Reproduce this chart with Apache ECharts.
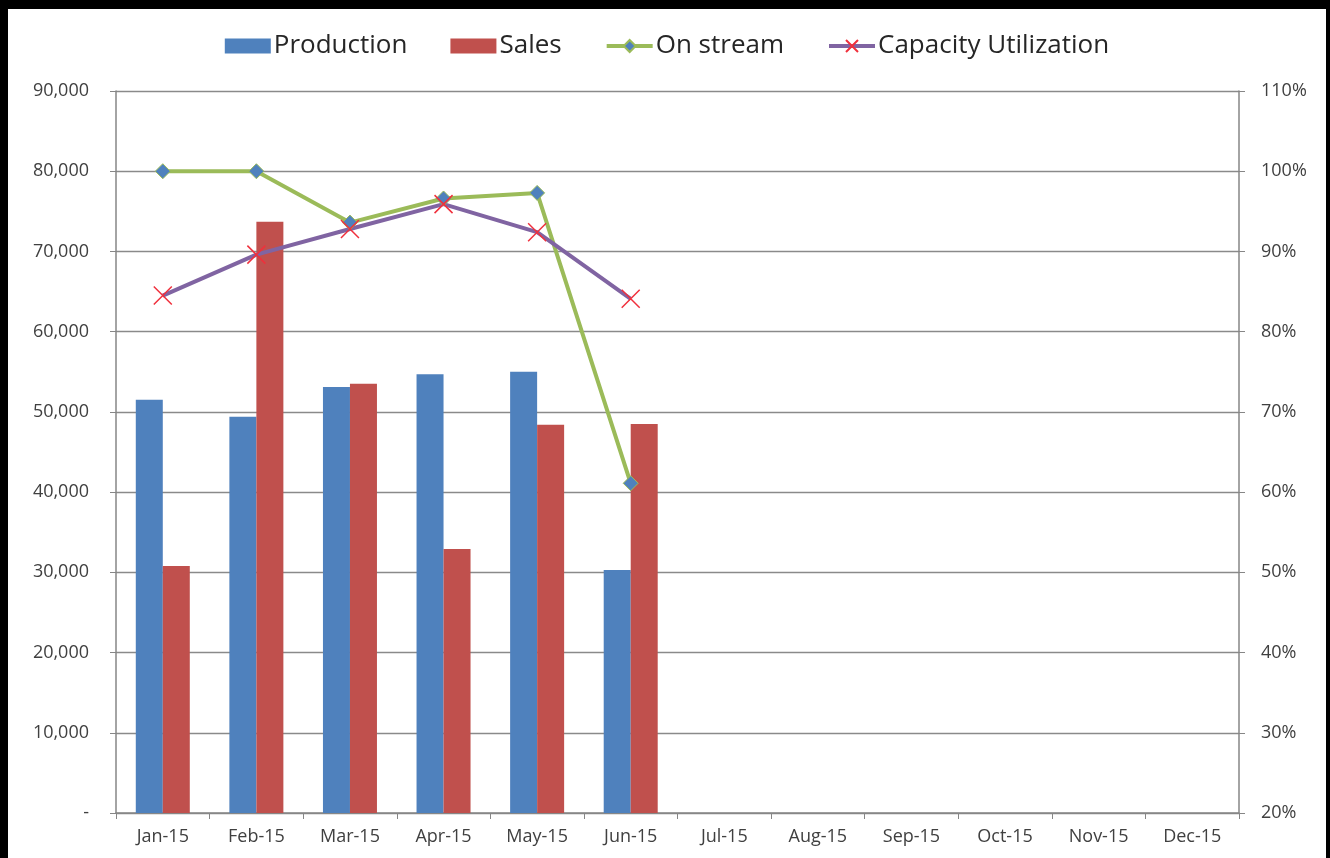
<!DOCTYPE html>
<html><head><meta charset="utf-8">
<script src="https://cdn.jsdelivr.net/npm/echarts@6/dist/echarts.min.js"></script>
<style>
html,body{margin:0;padding:0;background:#000;width:1330px;height:858px;overflow:hidden}
#c{position:absolute;left:8px;top:9px;width:1318px;height:849px;background:#fff}
</style></head><body><div id="c"></div>
<script>
const categories = ['Jan-15','Feb-15','Mar-15','Apr-15','May-15','Jun-15','Jul-15','Aug-15','Sep-15','Oct-15','Nov-15','Dec-15'];
const production = [51500, 49400, 53100, 54700, 55000, 30300, null, null, null, null, null, null];
const sales = [30800, 73700, 53500, 32900, 48400, 48500, null, null, null, null, null, null];
const onStream = [100, 100, 93.6, 96.6, 97.3, 61.1, null, null, null, null, null, null];
const capacityUtil = [84.5, 89.6, 92.8, 95.9, 92.4, 84.1, null, null, null, null, null, null];

const chart = echarts.init(document.getElementById('c'));
const ff = '"Open Sans", "Liberation Sans", sans-serif';
const labelFont = {color:'#404040', fontSize:18, fontFamily:ff};
chart.setOption({
  animation:false,
  backgroundColor:'#fff',
  legend:{
    top:19, left:'center', itemWidth:46, itemHeight:15, itemGap:43,
    textStyle:{color:'#262626', fontSize:26, fontFamily:ff, padding:[0,0,0,-2]},
    data:[
      {name:'Production', icon:'rect'},
      {name:'Sales', icon:'rect'},
      {name:'On stream', lineStyle:{width:4}},
      {name:'Capacity Utilization', lineStyle:{width:4}}
    ]
  },
  grid:{left:108, top:82, right:87, bottom:45, containLabel:false},
  xAxis:{
    type:'category', data:categories, boundaryGap:true,
    axisLine:{lineStyle:{color:'#868686', width:1.5}},
    axisTick:{show:true, alignWithLabel:false, length:6, lineStyle:{color:'#868686'}},
    axisLabel:Object.assign({margin:15}, labelFont)
  },
  yAxis:[{
    type:'value', min:0, max:90000, interval:10000,
    axisLine:{show:true, lineStyle:{color:'#868686', width:1.5}},
    axisTick:{show:true, inside:false, length:6, lineStyle:{color:'#868686'}},
    splitLine:{lineStyle:{color:'#8a8a8a', width:1.3}},
    axisLabel:Object.assign({margin:27, formatter:v=> v===0 ? '-' : v.toLocaleString('en-US')}, labelFont)
  },{
    type:'value', min:20, max:110, interval:10, position:'right',
    axisLine:{show:true, lineStyle:{color:'#868686', width:1.5}},
    axisTick:{show:true, length:6, lineStyle:{color:'#868686'}},
    splitLine:{show:false},
    axisLabel:Object.assign({margin:22, formatter:v=> v+'%'}, labelFont)
  }],
  series:[
    {name:'Production', type:'bar', data:production, barWidth:27, barGap:'0%', itemStyle:{color:'#4f81bd'}},
    {name:'Sales', type:'bar', data:sales, barWidth:27, barGap:'0%', itemStyle:{color:'#c0504d'}},
    {name:'On stream', type:'line', yAxisIndex:1, data:onStream, symbol:'diamond', symbolSize:15,
      lineStyle:{color:'#9bbb59', width:4}, itemStyle:{color:'#4f81bd', borderColor:'#9bbb59', borderWidth:1}},
    {name:'Capacity Utilization', type:'line', yAxisIndex:1, data:capacityUtil,
      symbol:'path://M0,0L10,10M10,0L0,10', symbolSize:18,
      lineStyle:{color:'#8064a2', width:4}, itemStyle:{color:'rgba(0,0,0,0)', borderColor:'#f0303c', borderWidth:1.5}}
  ]
});
</script></body></html>
